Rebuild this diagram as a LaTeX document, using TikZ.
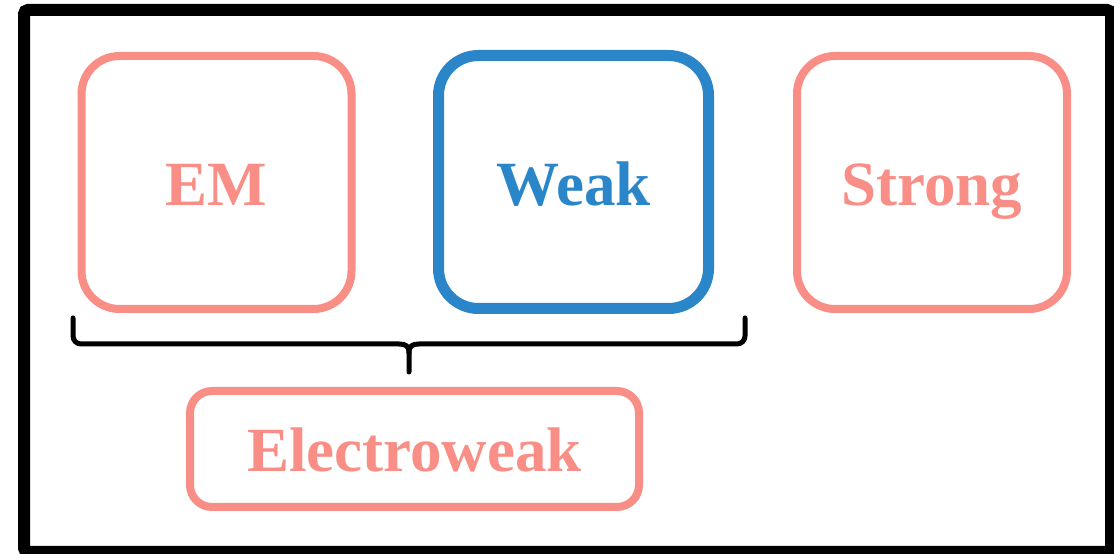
\documentclass[tikz,border=0pt]{standalone}
\usepackage{fontspec}
\setmainfont{Liberation Serif}
\definecolor{pinkc}{HTML}{F98E86}
\definecolor{bluec}{HTML}{2A86C8}
\begin{document}
\begin{tikzpicture}[x=1pt,y=1pt,
  forcebox/.style={draw=pinkc, line width=8pt, rounded corners=38pt, text=pinkc,
    font=\bfseries\fontsize{63}{70}\selectfont, inner sep=0pt,
    text height=47pt, text depth=0pt, minimum width=270pt, minimum height=253pt},
  weakbox/.style={forcebox, draw=bluec, text=bluec, line width=11pt, rounded corners=40pt},
  ewbox/.style={forcebox, rounded corners=22pt, minimum width=449pt, minimum height=116pt, text height=46pt}]
\useasboundingbox (0,0) rectangle (1114,554);
\begin{scope}
\clip (0,0) rectangle (1114,554);
\draw[line width=12pt, rounded corners=4pt] (24,2) rectangle (1111,544);
\end{scope}
\node[forcebox] (em) at (216.5,371.5) {EM};
\node[weakbox] (weak) at (573.5,372) {Weak};
\node[forcebox] (strong) at (932,371.5) {Strong};
\node[ewbox] (ew) at (414.5,105) {Electroweak};
\coordinate (bl) at (73,236);
\coordinate (br) at (745,236);
\coordinate (tip) at (409,182);
\draw[line width=5pt, line cap=round, line join=round]
  (bl) -- (73,218) arc[start angle=180, end angle=270, radius=8pt] -- (399,210)
  .. controls (406,210) and (409,208) .. (409,201) -- (tip);
\draw[line width=5pt, line cap=round, line join=round]
  (br) -- (745,218) arc[start angle=0, end angle=-90, radius=8pt] -- (419,210)
  .. controls (412,210) and (409,208) .. (409,201);
\end{tikzpicture}
\end{document}
